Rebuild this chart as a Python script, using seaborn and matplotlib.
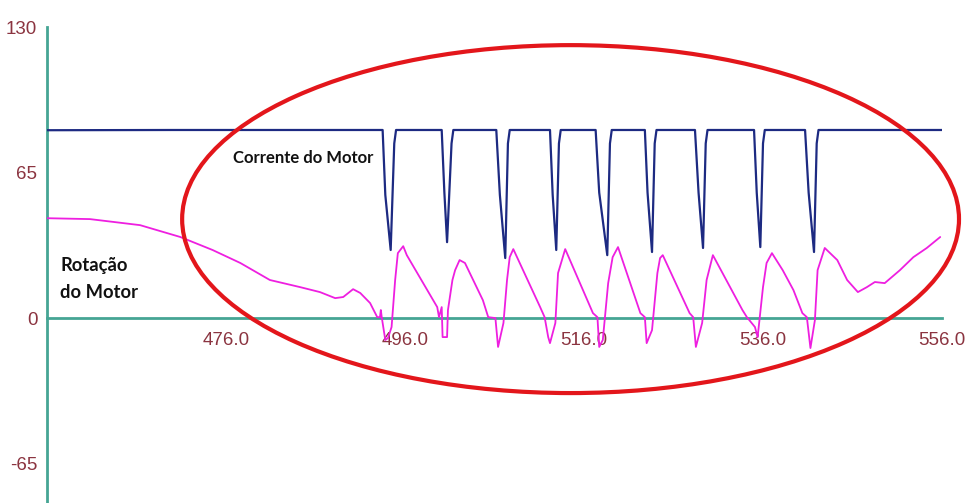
import matplotlib
matplotlib.use("Agg")
import matplotlib.pyplot as plt
from matplotlib.patches import Ellipse
import seaborn as sns
import pandas as pd

# Motor current trace (time, value)
current_t = [456.0, 470.0, 493.5, 493.8, 494.4, 494.8, 495.0,
             500.1, 500.4, 500.7, 501.2, 501.4,
             506.2, 506.6, 507.2, 507.5, 507.7,
             512.2, 512.5, 512.9, 513.2, 513.4,
             517.3, 517.7, 518.6, 518.9, 519.1,
             522.8, 523.1, 523.6, 523.9, 524.1,
             528.4, 528.8, 529.3, 529.6, 529.8,
             535.0, 535.3, 535.7, 536.0, 536.2,
             540.7, 541.1, 541.7, 542.0, 542.2, 556.0]
current_v = [83.9, 84.0, 84.0, 55.0, 30.4, 78.0, 84.0,
             84.0, 56.0, 33.9, 78.0, 84.0,
             84.0, 55.0, 26.8, 78.0, 84.0,
             84.0, 55.0, 30.4, 78.0, 84.0,
             84.0, 56.0, 28.1, 78.0, 84.0,
             84.0, 56.0, 29.5, 78.0, 84.0,
             84.0, 56.0, 31.3, 78.0, 84.0,
             84.0, 56.0, 31.7, 78.0, 84.0,
             84.0, 56.0, 29.5, 78.0, 84.0, 84.0]

# Motor speed trace (time, value)
speed_t = [456.0, 460.8, 466.4, 470.9, 474.5, 477.6, 480.9, 484.3, 486.5, 488.2,
           489.1, 490.2, 491.0, 492.1, 492.9, 493.2, 493.3, 493.4, 493.8, 494.1,
           494.5, 494.9, 495.2, 495.8, 496.2, 499.6, 499.8, 500.1, 500.2, 500.7,
           500.8, 501.3, 501.6, 502.1, 502.7, 504.7, 505.3, 506.1, 506.4, 507.0,
           507.4, 507.7, 508.1, 511.1, 511.6, 512.0, 512.2, 512.8, 513.1, 513.9,
           517.0, 517.5, 517.7, 518.1, 518.7, 519.2, 519.8, 522.3, 522.8, 523.0,
           523.6, 524.2, 524.5, 524.8, 527.8, 528.2, 528.5, 529.2, 529.7, 530.4,
           533.7, 534.2, 535.1, 535.4, 536.0, 536.4, 537.0, 538.2, 539.4, 540.4,
           540.9, 541.3, 541.8, 542.1, 542.9, 544.3, 545.4, 546.6, 547.6, 548.5,
           549.6, 551.3, 552.8, 554.3, 555.8]
speed_v = [44.6, 44.2, 41.5, 36.2, 30.4, 24.6, 17.0, 13.8, 11.6, 8.9,
           9.4, 12.9, 11.2, 6.7, 0.4, 0.4, 3.6, 0.4, -9.8, -8.9,
           -4.0, 17.0, 29.0, 32.1, 28.1, 4.9, 0.4, 4.9, -8.5, -8.5,
           3.6, 17.0, 21.4, 25.9, 24.6, 8.0, 0.4, 0.0, -12.9, -2.2,
           17.0, 27.2, 30.8, 4.9, 0.4, -8.5, -11.2, -2.2, 20.1, 30.8,
           2.2, 0.4, -12.9, -9.8, 15.6, 27.2, 31.7, 2.2, 0.4, -11.2,
           -5.4, 20.1, 26.8, 28.1, 2.2, 0.4, -12.9, -2.2, 17.0, 28.1,
           3.6, 0.4, -4.0, -8.5, 13.8, 24.6, 29.0, 21.4, 12.5, 2.2,
           0.4, -13.4, -0.9, 21.4, 31.3, 25.9, 17.0, 11.6, 13.8, 16.1,
           15.6, 21.4, 27.2, 31.3, 36.2]

x_major = [476, 496, 516, 536, 556]
x_minor = [466, 486, 506, 526, 546]
x_labels = ["476.0", "496.0", "516.0", "536.0", "556.0"]
y_major = [-65, 0, 65, 130]
y_minor = [-32.5, 32.5, 97.5]
y_labels = ["-65", "0", "65", "130"]

label_current = "Corrente do Motor"
label_speed = ["Rotação", "do Motor"]

sns.set_style("white")
plt.rcParams["font.family"] = ["Liberation Sans", "DejaVu Sans"]

axis_color = "#45a594"
tick_text = "#8b3440"
label_font = ["Lato", "DejaVu Sans"]

fig = plt.figure(figsize=(9.65, 5.03), dpi=100)
ax = fig.add_axes([47 / 965, 0.0, (942 - 47) / 965, 1 - 27 / 503])

df_current = pd.DataFrame({"t": current_t, "v": current_v})
df_speed = pd.DataFrame({"t": speed_t, "v": speed_v})

sns.lineplot(data=df_speed, x="t", y="v", ax=ax, color="#ee1fe0",
             linewidth=1.3, sort=False, estimator=None, zorder=3)
sns.lineplot(data=df_current, x="t", y="v", ax=ax, color="#1d2a82",
             linewidth=1.6, sort=False, estimator=None, zorder=4)

ax.set_xlim(456, 556)
ax.set_ylim(-82.6, 130)

for side in ("top", "right"):
    ax.spines[side].set_visible(False)
ax.spines["bottom"].set_position(("data", 0))
for side in ("left", "bottom"):
    ax.spines[side].set_color(axis_color)
    ax.spines[side].set_linewidth(2.0)

ax.set_xticks(x_major)
ax.set_xticklabels(x_labels)
ax.set_xticks(x_minor, minor=True)
ax.set_yticks(y_major)
ax.set_yticklabels(y_labels)
ax.set_yticks(y_minor, minor=True)

ax.tick_params(axis="x", which="major", direction="inout", length=10, width=1.3,
               color=axis_color, labelcolor=tick_text, labelsize=13.5, pad=5)
ax.tick_params(axis="x", which="minor", direction="inout", length=5, width=1.3,
               color=axis_color)
ax.tick_params(axis="y", which="major", direction="out", length=5, width=1.3,
               color=axis_color, labelcolor=tick_text, labelsize=13.5, pad=2)
ax.tick_params(axis="y", which="minor", direction="inout", length=3, width=1.0,
               color=axis_color)

ax.set_xlabel("")
ax.set_ylabel("")
ax.grid(False)

ax.text(476.8, 71.4, label_current, fontsize=12, fontweight="bold",
        family=label_font, color="#111111", ha="left", va="center", zorder=5)
ax.text(457.5, 23.7, label_speed[0], fontsize=13.2, fontweight="bold",
        family=label_font, color="#111111", ha="left", va="center", zorder=5)
ax.text(457.5, 11.2, label_speed[1], fontsize=13.2, fontweight="bold",
        family=label_font, color="#111111", ha="left", va="center", zorder=5)

ax.add_patch(Ellipse((514.5, 44.2), 86.8, 155.4, fill=False,
                     edgecolor="#e3161b", linewidth=3.0, clip_on=False, zorder=6))

fig.savefig("out.png", dpi=100)
